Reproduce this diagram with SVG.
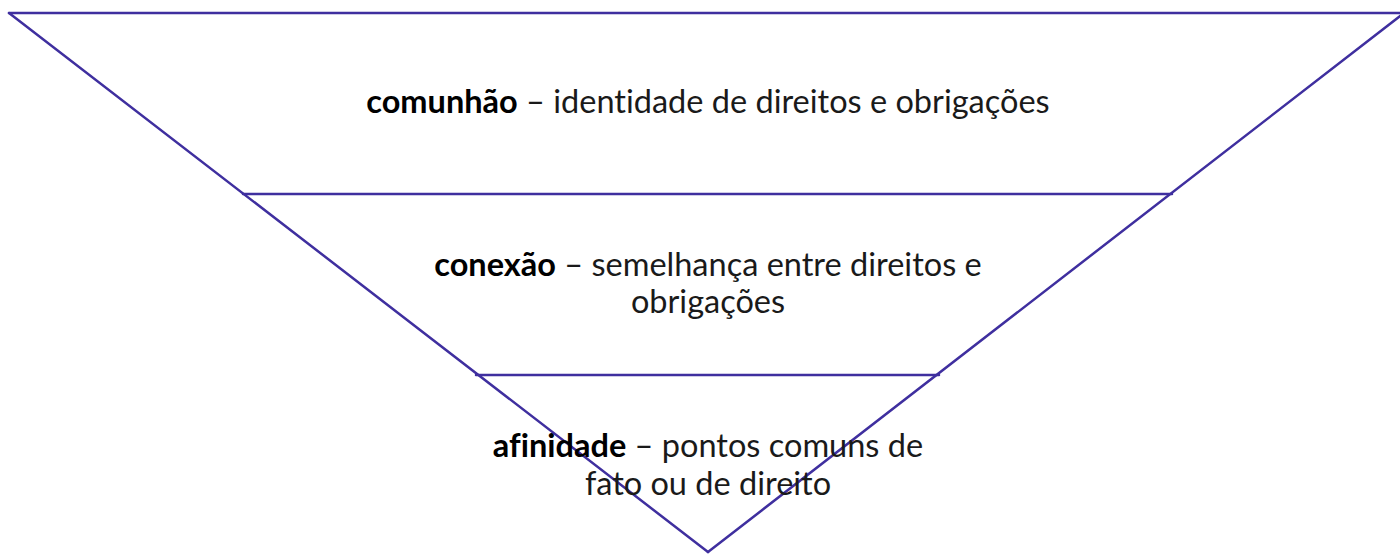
<svg xmlns="http://www.w3.org/2000/svg" width="1400" height="554" viewBox="0 0 1400 554">
<style>
.edge{stroke:#3f2f9f;stroke-width:2.5;fill:none;stroke-linecap:round}
.t{font-family:Lato,"Noto Sans","Liberation Sans",sans-serif;font-size:32.5px;font-weight:400;fill:#1a1a1a;text-anchor:middle;font-variant-ligatures:none}
.b{font-weight:700;fill:#000}
</style>
<rect width="1400" height="554" fill="#fff"/>
<g id="connectors">
<line class="edge" x1="9" y1="13" x2="1402" y2="13"/>
<line class="edge" x1="9" y1="13" x2="708" y2="552"/>
<line class="edge" x1="1404" y1="13" x2="708" y2="552"/>
<line class="edge" x1="243" y1="194" x2="1172" y2="194"/>
<line class="edge" x1="476" y1="375" x2="939" y2="375"/>
</g>
<g id="level-comunhao">
<text class="t" x="708" y="113"><tspan class="b">comunhão</tspan> – identidade de direitos e obrigações</text>
</g>
<g id="level-conexao">
<text class="t" x="708" y="276"><tspan class="b">conexão</tspan> – semelhança entre direitos e</text>
<text class="t" x="708" y="313">obrigações</text>
</g>
<g id="level-afinidade">
<text class="t" x="708" y="457"><tspan class="b">afinidade</tspan> – pontos comuns de</text>
<text class="t" x="708" y="495">fato ou de direito</text>
</g>
</svg>
